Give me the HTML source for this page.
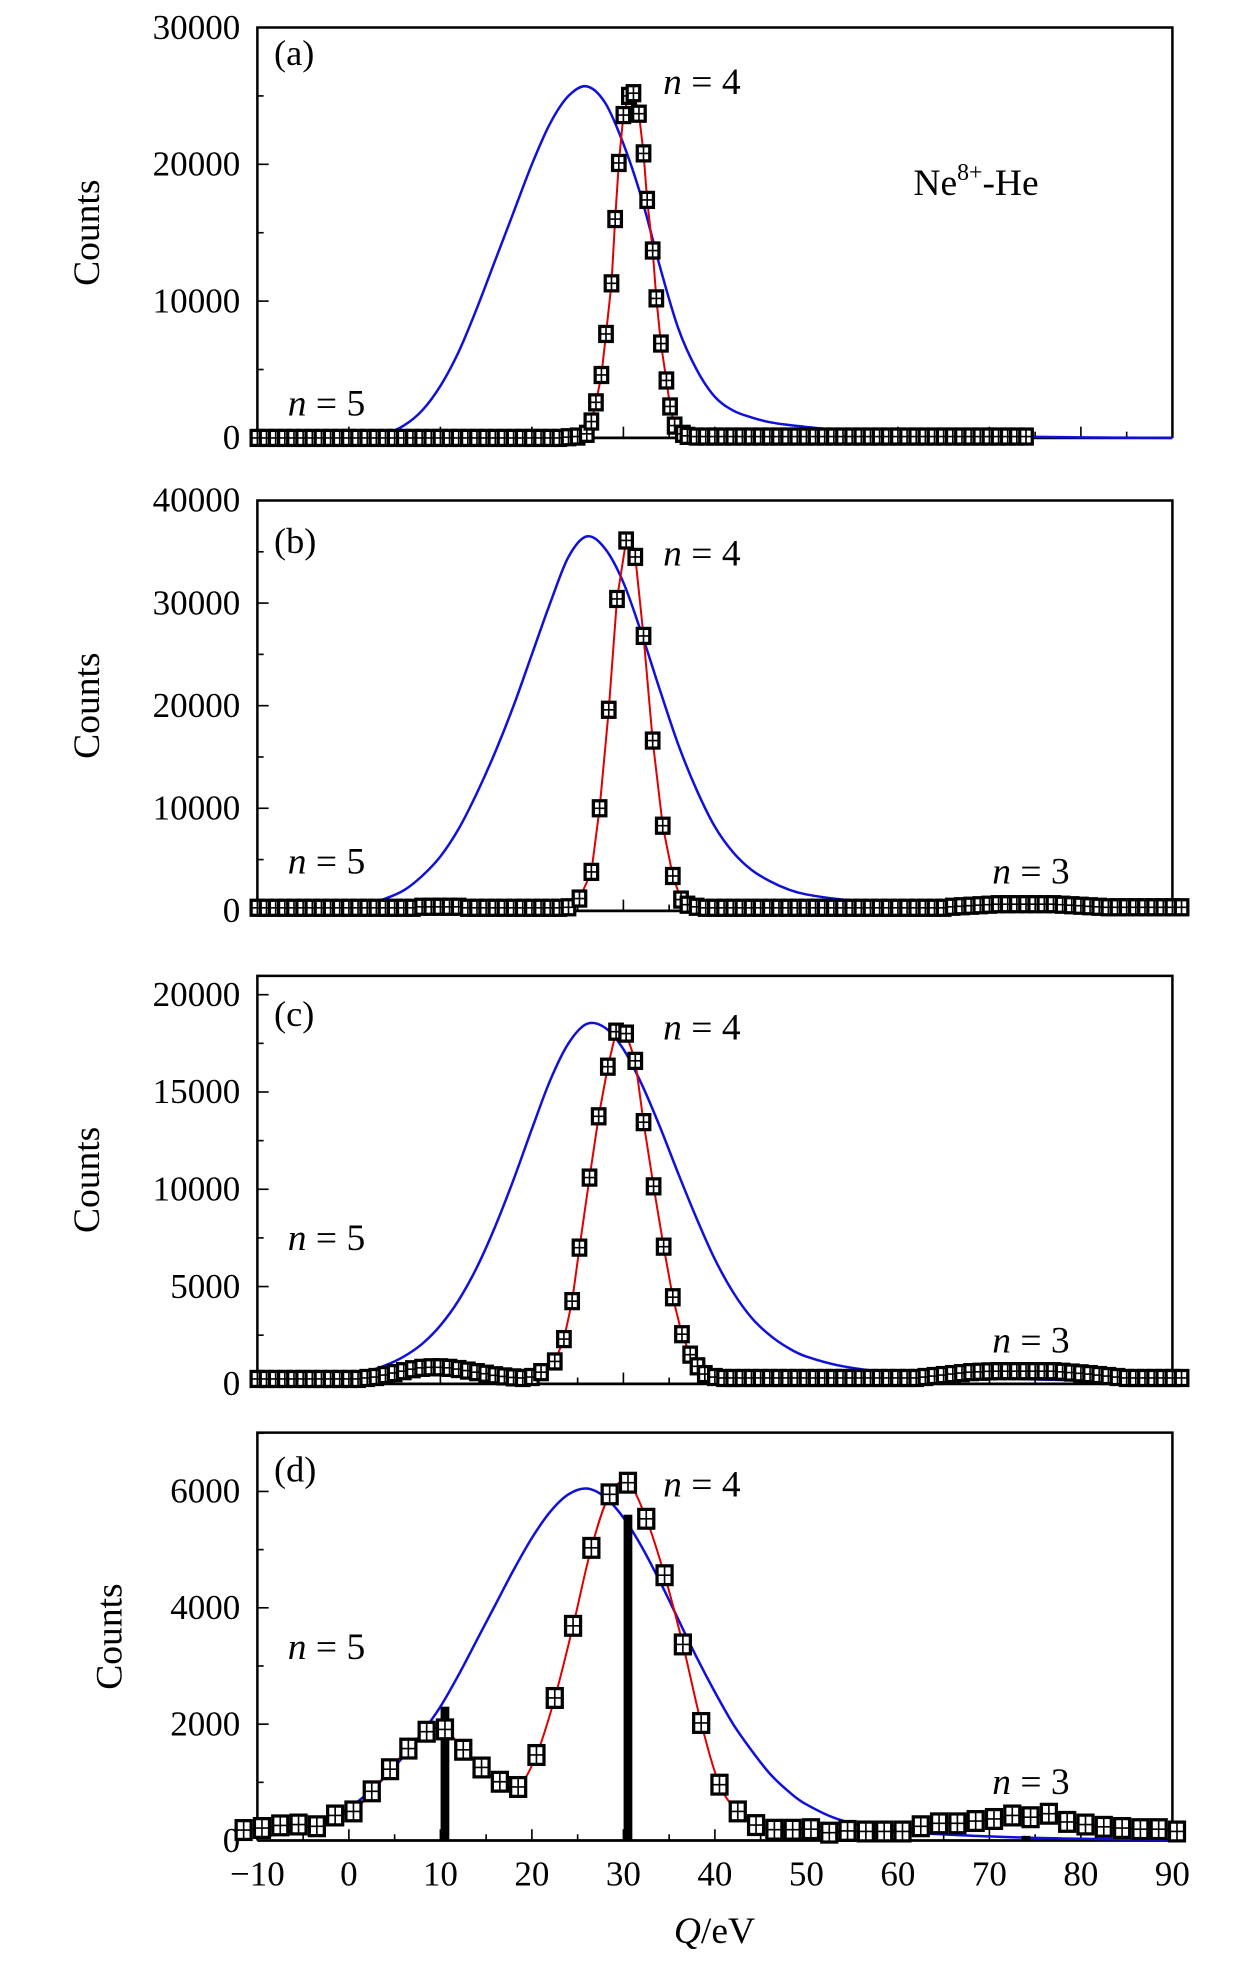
<!DOCTYPE html>
<html><head><meta charset="utf-8"><style>
html,body{margin:0;padding:0;background:#fff}
svg{display:block}
text{font-family:"Liberation Serif",serif;fill:#000}
</style></head><body>
<svg id="fig" width="1260" height="1961" viewBox="0 0 1007 1567.3" preserveAspectRatio="none" xmlns="http://www.w3.org/2000/svg">
<rect width="1007" height="1567.3" fill="#fff"/>
</svg>
<script>
// ---- data ----
const aX=[-10,-9,-8,-7,-6,-5,-4,-3,-2,-1,0,1,2,3,4,5,6,7,8,9,10,11,12,13,14,15,16,17,18,19,20,21,22,23,24,25,26,26.5,27.0,27.6,28.1,28.7,29.1,29.5,30.0,30.6,31.1,31.7,32.2,32.6,33.2,33.6,34.1,34.7,35.1,35.6,36.5,37,38,39,40,41,42,43,44,45,46,47,48,49,50,51,52,53,54,55,56,57,58,59,60,61,62,63,64,65,66,67,68,69,70,71,72,73,74];
const aY=[0,0,0,0,0,0,0,0,0,0,0,0,0,0,0,0,0,0,0,0,0,0,0,0,0,0,0,0,0,0,0,0,0,0,50,100,300,1200,2600,4600,7600,11300,16000,20100,23600,25000,25200,23700,20800,17400,13700,10200,6900,4200,2300,900,300,150,100,100,100,100,100,100,100,100,100,100,100,100,100,100,100,100,100,100,100,100,100,100,100,100,100,100,100,100,100,100,100,100,100,100,100,100,100];
const bX=[-10,-9,-8,-7,-6,-5,-4,-3,-2,-1,0,1,2,3,4,5,6,7,8,9,10,11,12,13,14,15,16,17,18,19,20,21,22,23,24,25.2,26.5,27.4,28.4,29.3,30.3,31.3,32.2,33.2,34.3,35.4,36.3,37,38,39,40,41,42,43,44,45,46,47,48,49,50,51,52,53,54,55,56,57,58,59,60,61,62,63,64,65,66,67,68,69,70,71,72,73,74,75,76,77,78,79,80,81,82,83,84,85,86,87,88,89,90,91];
const bY=[300,300,300,300,300,300,300,300,300,300,300,300,300,300,300,300,300,300,400,400,400,400,400,300,300,300,300,300,300,300,300,300,300,300,350,1200,3800,10000,19600,30400,36100,34500,26800,16600,8300,3400,1100,600,400,300,300,300,300,300,300,300,300,300,300,300,300,300,300,300,300,300,300,300,300,300,300,300,300,300,300,300,400,450,500,550,600,650,650,650,650,650,650,650,600,550,500,450,400,350,350,350,350,350,350,350,350,350];
const cX=[-10,-9,-8,-7,-6,-5,-4,-3,-2,-1,0,1,2,3,4,5,6,7,8,9,10,11,12,13,14,15,16,17,18,19,20,21,22.5,23.5,24.4,25.2,26.3,27.3,28.3,29.2,30.3,31.3,32.2,33.3,34.4,35.4,36.4,37.3,38.1,38.9,40,41,42,43,44,45,46,47,48,49,50,51,52,53,54,55,56,57,58,59,60,61,62,63,64,65,66,67,68,69,70,71,72,73,74,75,76,77,78,79,80,81,82,83,84,85,86,87,88,89,90,91];
const cY=[250,250,250,250,250,250,250,250,250,250,250,250,300,350,450,550,650,750,820,850,850,820,760,680,600,520,440,380,330,300,350,600,1150,2300,4250,7000,10600,13750,16300,18100,18000,16600,13450,10150,7050,4450,2550,1500,900,500,350,300,300,300,300,300,300,300,300,300,300,300,300,300,300,300,300,300,300,300,300,300,300,350,400,450,500,550,600,620,640,650,650,650,650,650,650,650,620,580,540,500,450,400,350,300,300,300,300,300,300,300,300];
const dX=[-11.5,-9.5,-7.5,-5.5,-3.5,-1.5,0.5,2.5,4.5,6.5,8.5,10.5,12.5,14.5,16.5,18.5,20.5,22.5,24.5,26.5,28.5,30.5,32.5,34.5,36.5,38.5,40.5,42.5,44.5,46.5,48.5,50.5,52.5,54.5,56.5,58.5,60.5,62.5,64.5,66.5,68.5,70.5,72.5,74.5,76.5,78.5,80.5,82.5,84.5,86.5,88.5,90.5];
const dY=[180,215,260,275,245,430,500,845,1225,1580,1870,1910,1560,1255,1010,920,1470,2450,3690,5030,5950,6150,5530,4560,3370,2020,960,500,265,185,185,195,135,165,155,155,155,245,295,295,335,370,430,400,460,320,275,235,215,195,195,155];
const blueX=[-10,-8,-6,-4,-2,0,2,4,6,8,10,12,14,16,18,20,22,24,26,28,30,32,34,36,38,40,42,44,46,48,50,54,60,70,80,90];
const blueA=[0,0,0,0,0,0,50,300,900,2000,3800,6300,9500,13000,16500,20000,23000,25000,25700,24500,21500,17500,12500,8000,5000,3000,2000,1500,1150,950,800,550,300,120,40,0];
const blueB=[50,80,120,180,280,420,700,1200,2000,3400,5300,8000,11500,15500,20000,25000,30000,34500,36500,35300,32000,27000,21500,16200,11800,8200,5700,4000,2900,2100,1600,1100,750,450,250,120];
const blueC=[150,180,220,280,350,450,650,950,1400,2050,3000,4300,6000,8100,10500,13100,15600,17500,18500,18300,17200,15400,13200,10800,8500,6400,4700,3400,2500,1850,1400,900,550,300,170,90];
const blueD=[50,100,180,260,380,560,800,1100,1450,1850,2300,2850,3450,4050,4650,5200,5650,5950,6050,5900,5550,5050,4450,3800,3150,2550,2000,1550,1150,850,620,340,160,70,30,10];
const barX=[10.5,30.5,74];
const barY=[2300,5600,80];
const xTicks=[-10,0,10,20,30,40,50,60,70,80,90];
const xTickLabels=["−10","0","10","20","30","40","50","60","70","80","90"];
const yTicksA=[0,10000,20000,30000];
const yTicksB=[0,10000,20000,30000,40000];
const yTicksC=[0,5000,10000,15000,20000];
const yTicksD=[0,2000,4000,6000];

// ---- layout ----
const NS="http://www.w3.org/2000/svg";
const svg=document.getElementById('fig');
const X0=205.7,X1=937,XMIN=-10,XMAX=90;
const sx=v=>X0+(v-XMIN)/(XMAX-XMIN)*(X1-X0);
function mk(tag,attrs,parent){const e=document.createElementNS(NS,tag);for(const k in attrs)e.setAttribute(k,attrs[k]);(parent||svg).appendChild(e);return e;}
function smooth(pts){let d='M'+pts[0][0]+','+pts[0][1];for(let i=0;i<pts.length-1;i++){const p0=pts[i-1]||pts[i],p1=pts[i],p2=pts[i+1],p3=pts[i+2]||p2;d+=' C'+(p1[0]+(p2[0]-p0[0])/6)+','+(p1[1]+(p2[1]-p0[1])/6)+' '+(p2[0]-(p3[0]-p1[0])/6)+','+(p2[1]-(p3[1]-p1[1])/6)+' '+p2[0]+','+p2[1];}return d;}

const panels=[
 {id:'a',top:22,zero:350,ymax:30000,ticks:yTicksA,minor:5000,xs:aX,ys:aY,blue:blueA,mw:10,mh:12,letterY:52,n4:[530,75],n5:[230,332],n3:null},
 {id:'b',top:400,zero:728,ymax:40000,ticks:yTicksB,minor:5000,xs:bX,ys:bY,blue:blueB,mw:10,mh:12,letterY:442,n4:[530,452],n5:[230,698],n3:[793,706]},
 {id:'c',top:780,zero:1106,ymax:20965,ticks:yTicksC,minor:2500,xs:cX,ys:cY,blue:blueC,mw:10,mh:12,letterY:820,n4:[530,831],n5:[230,999],n3:[793,1081]},
 {id:'d',top:1145,zero:1471,ymax:7011,ticks:yTicksD,minor:1000,xs:dX,ys:dY,blue:blueD,mw:12,mh:15,letterY:1184,n4:[530,1196],n5:[230,1326],n3:[793,1434]}
];

panels.forEach(p=>{
  const sy=v=>p.zero-v/p.ymax*(p.zero-p.top);
  const g=mk('g',{});
  
  
  const fr=mk('path',{d:`M${X0},${p.zero} V${p.top} H${X1} V${p.zero}`,fill:'none',stroke:'#000','stroke-width':2},g);
  
  
  const xa=mk('line',{x1:X0,x2:X1,y1:p.zero,y2:p.zero,stroke:'#000','stroke-width':2.2},g);
  
  
  for(let v=XMIN;v<=XMAX;v+=5){const major=(v%10===0);mk('line',{x1:sx(v),x2:sx(v),y1:p.zero,y2:p.zero-(major?9:5),stroke:'#000','stroke-width':1.3},g);}
  for(let v=0;v<=p.ymax;v+=p.minor){mk('line',{x1:X0,x2:X0+(v%(p.minor*2)===0?9:5),y1:sy(v),y2:sy(v),stroke:'#000','stroke-width':1.3},g);}
  p.ticks.forEach(v=>{const t=mk('text',{x:192,y:sy(v)+9,'text-anchor':'end','font-size':28},g);t.textContent=String(v);
    
    });
  const yl=mk('text',{x:0,y:0,'text-anchor':'middle','font-size':30,transform:`translate(${p.id==='d'?97:79},${(p.top+p.zero)/2}) rotate(-90)`},g);
  yl.textContent='Counts';
  
  
  const bp=mk('path',{d:smooth(blueX.map((x,i)=>[sx(x),sy(p.blue[i])])),fill:'none',stroke:'#1010dd','stroke-width':2},g);
  
  
  if(p.id==='d'){barX.forEach((x,i)=>{const r=mk('rect',{x:sx(x)-3.5,y:sy(barY[i]),width:7,height:p.zero-sy(barY[i]),fill:'#000'},g);
    
    });}
  const pts=p.xs.map((x,i)=>[sx(x),sy(p.ys[i])]);
  const rl=mk('path',{d:p.id==='d'?smooth(pts):'M'+pts.map(q=>q.join(',')).join(' L'),fill:'none',stroke:'#e00000','stroke-width':1.6},g);
  
  
  p.xs.forEach((x,i)=>{const cx=sx(x),cy=sy(p.ys[i]);const m=mk('g',{},g);
    
    
    mk('rect',{x:cx-p.mw/2,y:cy-p.mh/2,width:p.mw,height:p.mh,fill:'#fff',stroke:'#000','stroke-width':2.6},m);
    mk('path',{d:`M${cx},${cy-p.mh/2} V${cy+p.mh/2} M${cx-p.mw/2},${cy} H${cx+p.mw/2}`,stroke:'#000','stroke-width':1.3},m);});
  const lt=mk('text',{x:219,y:p.letterY,'font-size':29},g);lt.textContent='('+p.id+')';
  
  
  [['n4','4'],['n5','5'],['n3','3']].forEach(([k,n])=>{if(!p[k])return;const t=mk('text',{x:p[k][0],y:p[k][1],'font-size':30},g);
    t.innerHTML='<tspan font-style="italic">n</tspan> = '+n;
    
    });
});
const ne=mk('text',{x:730,y:156,'font-size':30});
ne.innerHTML='Ne<tspan font-size="19" dy="-12">8+</tspan><tspan dy="12">-He</tspan>';


xTicks.forEach((v,i)=>{const t=mk('text',{x:sx(v),y:1507,'text-anchor':'middle','font-size':28});t.textContent=xTickLabels[i];
  
  });
const xt=mk('text',{x:571,y:1553,'text-anchor':'middle','font-size':30});
xt.innerHTML='<tspan font-style="italic">Q</tspan>/eV';


</script>
</body></html>
